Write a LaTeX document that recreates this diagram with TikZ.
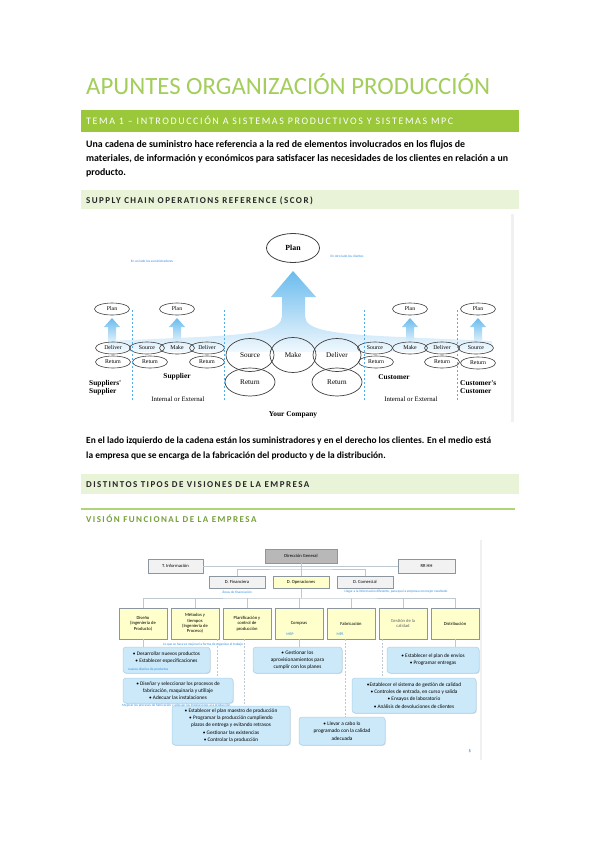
\documentclass[tikz,border=0pt]{standalone}
\usepackage{fontspec}
\setmainfont{Carlito}
\newfontfamily\serif{Liberation Serif}
\newfontfamily\spacedfont{Carlito}[LetterSpace=16]
\usetikzlibrary{shapes.geometric,shadows}
\definecolor{titlegreen}{RGB}{163,206,92}
\definecolor{bargreen}{RGB}{154,200,58}
\definecolor{palegreen}{RGB}{232,243,216}
\definecolor{darkgreen}{RGB}{118,160,60}
\definecolor{linegreen}{RGB}{176,212,120}
\definecolor{scorblue}{RGB}{80,175,235}
\definecolor{noteblue}{RGB}{40,140,230}
\definecolor{ylw}{RGB}{255,255,204}
\definecolor{lblue}{RGB}{204,233,249}
\definecolor{lbluedraw}{RGB}{170,210,235}
\definecolor{conn}{RGB}{190,200,210}
\definecolor{boxdraw}{RGB}{140,150,160}
\begin{document}
\begin{tikzpicture}[x=1pt,y=-1pt,
  sm/.style={ellipse,draw=black!75,line width=0.6pt,minimum width=35,minimum height=12,inner sep=0,font=\serif\fontsize{5.8}{6}\selectfont},
  bg/.style={ellipse,draw=black!75,line width=0.7pt,minimum width=48,minimum height=33,inner sep=0,font=\serif\fontsize{7.2}{8}\selectfont},
  lbl/.style={font=\serif\bfseries\fontsize{7.4}{8}\selectfont,align=left,inner sep=0},
  ilbl/.style={font=\serif\fontsize{6.8}{7}\selectfont,inner sep=0},
  vdash/.style={draw=scorblue,dashed,line width=0.9pt,dash pattern=on 2pt off 2pt},
  note/.style={text=noteblue,font=\fontsize{3.4}{4}\selectfont,inner sep=0},
  obox/.style={draw=boxdraw,line width=0.5pt,inner sep=0,align=center,font=\fontsize{4.6}{5.4}\selectfont,drop shadow={shadow xshift=0.7pt,shadow yshift=-0.7pt,opacity=0.35}},
  bbox/.style={draw=lbluedraw,fill=lblue,rounded corners=3pt,line width=0.5pt,inner sep=0,align=center,font=\fontsize{5.3}{7.2}\selectfont,drop shadow={shadow xshift=0.7pt,shadow yshift=-0.8pt,opacity=0.3}},
  cl/.style={draw=conn,line width=0.6pt},
  dl/.style={draw=conn,line width=0.8pt,dashed,dash pattern=on 2pt off 1.5pt},
  body/.style={anchor=base west,inner sep=0,font=\bfseries\fontsize{9.85}{14}\selectfont},
  bodyb/.style={anchor=base west,inner sep=0,font=\bfseries\fontsize{9.4}{14}\selectfont}]
\useasboundingbox (0,0) rectangle (599,848);
\fill[white] (0,0) rectangle (599,848);

% ---------- title and headings
\node[anchor=base west,inner sep=0,text=titlegreen,font=\fontsize{24.8}{30}\selectfont] (title) at (86,95) {APUNTES ORGANIZACIÓN PRODUCCIÓN};
\fill[bargreen] (81,110) rectangle (519,132);
\node[anchor=base west,inner sep=0,text=white,font=\spacedfont\fontsize{10}{11}\selectfont] (tema) at (86,124.5) {TEMA 1 – INTRODUCCIÓN A SISTEMAS PRODUCTIVOS Y SISTEMAS MPC};
\node[body] (p1) at (86,147) {Una cadena de suministro hace referencia a la red de elementos involucrados en los flujos de};
\node[body] (p2) at (86,161.5) {materiales, de información y económicos para satisfacer las necesidades de los clientes en relación a un};
\node[body] (p3) at (86,175.5) {producto.};
\fill[palegreen] (81,190) rectangle (519,209);
\node[anchor=base west,inner sep=0,text=black!85,font=\spacedfont\bfseries\fontsize{9}{10}\selectfont] (scorh) at (86,203) {SUPPLY CHAIN OPERATIONS REFERENCE (SCOR)};

% ---------- SCOR picture
\draw[black!6,line width=3pt] (512,214) -- (512,422);
\shade[top color=scorblue!85,bottom color=scorblue!8]
  (293,271) -- (316,297) -- (305,297) -- (305,316)
  .. controls (305,330) and (330,334) .. (400,337) -- (492,341) -- (492,352) -- (108,352) -- (108,341)
  -- (200,337) .. controls (258,334) and (282,330) .. (282,316) -- (282,297) -- (271,297) -- cycle;
\foreach \ax in {112,177,410,478}{
  \shade[top color=scorblue!85,bottom color=scorblue!20]
   (\ax,318) -- (\ax+8,327) -- (\ax+4,327) -- (\ax+4,341) -- (\ax-4,341) -- (\ax-4,327) -- (\ax-8,327) -- cycle;}
\node[ellipse,draw=black!75,line width=0.8pt,minimum width=53,minimum height=29,inner sep=0,font=\serif\bfseries\fontsize{7.8}{8}\selectfont] (plan) at (293,248) {Plan};
\node[note] (n1) at (152,261) {En un lado los suministradores};
\node[note] (n2) at (347,256) {En otro lado los clientes};
\node[sm] (pl1) at (112,309) {Plan};
\node[sm] (pl2) at (177,309) {Plan};
\node[sm] (pl3) at (410,309) {Plan};
\node[sm] (pl4) at (478,309) {Plan};
% left
\node[sm] (d1) at (113,348) {Deliver};
\node[sm] (s1) at (147,348) {Source};
\node[sm] (m1) at (177,348) {Make};
\node[sm] (d2) at (207,348) {Deliver};
\node[sm] (r1) at (113,362) {Return};
\node[sm] (r2) at (150,362) {Return};
\node[sm] (r3) at (207,362) {Return};
% company
\node[bg] (S) at (250,355) {Source};
\node[bg,minimum width=46,minimum height=35] (M) at (293,355) {Make};
\node[bg] (D) at (337,355) {Deliver};
\node[bg,minimum width=50,minimum height=28] (R1) at (250,382) {Return};
\node[bg,minimum width=50,minimum height=28] (R2) at (337,382) {Return};
% right
\node[sm] (s2) at (375,348) {Source};
\node[sm] (m2) at (410,348) {Make};
\node[sm] (d3) at (442,348) {Deliver};
\node[sm] (s3) at (476,348) {Source};
\node[sm] (r4) at (376,362) {Return};
\node[sm] (r5) at (442,362) {Return};
\node[sm] (r6) at (478,363) {Return};
% dividers
\foreach \dx in {132,224,364,457}{\draw[vdash] (\dx,310) -- (\dx,401);}
\node[lbl,anchor=north west] (ss) at (89,380) {Suppliers'\\Supplier};
\node[lbl] (sup) at (177,377) {Supplier};
\node[ilbl] (ie1) at (178,399) {Internal or External};
\node[lbl] (yc) at (293,415) {Your Company};
\node[lbl] (cus) at (394,377) {Customer};
\node[ilbl] (ie2) at (411,399) {Internal or External};
\node[lbl,anchor=north west] (cc) at (460,380) {Customer's\\Customer};

% ---------- second paragraph and headings
\node[bodyb] (q1) at (86,443) {En el lado izquierdo de la cadena están los suministradores y en el derecho los clientes. En el medio está};
\node[bodyb] (q2) at (86,458) {la empresa que se encarga de la fabricación del producto y de la distribución.};
\fill[palegreen] (81,474) rectangle (519,494);
\node[anchor=base west,inner sep=0,text=black!85,font=\spacedfont\bfseries\fontsize{9}{10}\selectfont] (dist) at (86,487.5) {DISTINTOS TIPOS DE VISIONES DE LA EMPRESA};
\draw[linegreen,line width=1.2pt] (81,509) -- (515,509);
\node[anchor=base west,inner sep=0,text=darkgreen,font=\spacedfont\bfseries\fontsize{9}{10}\selectfont] (vis) at (86,522) {VISIÓN FUNCIONAL DE LA EMPRESA};

% ---------- org chart
\draw[black!6,line width=1.5pt] (481,540) -- (481,760);
\node[obox,fill=black!28,minimum width=72,minimum height=14] (dg) at (301,556) {Dirección General};
\node[obox,fill=black!5,minimum width=55,minimum height=14] (ti) at (175.5,566) {T. Información};
\node[obox,fill=black!5,minimum width=57,minimum height=14] (rh) at (426.5,566) {RR HH};
\node[obox,fill=black!5,minimum width=56,minimum height=12.5] (df) at (237,582) {D. Financiera};
\node[obox,fill=ylw,minimum width=56,minimum height=12.5] (dop) at (301,582) {D. Operaciones};
\node[obox,fill=black!5,minimum width=56,minimum height=12.5] (dc) at (365,582) {D. Comercial};
\coordinate (h1) at (301,569);
\draw[cl] (ti.east) -- (rh.west);
\draw[cl] (dg.south) -- (h1);
\draw[cl] (df.north) |- (h1) -| (dc.north);
\draw[cl] (h1) -- (dop.north);
\node[note] (nf) at (237,592) {Áreas de financiación};
\node[note] (nc) at (396,592) {Llegar a la información diferente, para que la empresa con mejor resultado};
% bottom row
\node[obox,fill=ylw,minimum width=48,minimum height=31] (dis) at (143,623.5) {Diseño\\(ingeniería de\\Producto)};
\node[obox,fill=ylw,minimum width=48,minimum height=31] (met) at (195,623.5) {Métodos y\\tiempos\\(Ingeniería de\\Proceso)};
\node[obox,fill=ylw,minimum width=48,minimum height=31] (pla) at (247,623.5) {Planificación y\\control de\\producción};
\node[obox,fill=ylw,minimum width=48,minimum height=31] (com) at (299,623.5) {Compras};
\node[obox,fill=ylw,minimum width=48,minimum height=31] (fab) at (351,623.5) {Fabricación};
\node[obox,fill=ylw,minimum width=48,minimum height=31,text=black!60] (cal) at (403,623.5) {Gestión de la\\calidad};
\node[obox,fill=ylw,minimum width=48,minimum height=31] (dst) at (455,623.5) {Distribución};
\node[note,font=\fontsize{3.8}{4}\selectfont] (mrp) at (290,634) {MRP};
\node[note,font=\fontsize{3.8}{4}\selectfont] (mps) at (340,634) {MPS};
\coordinate (h2) at (301,598);
\draw[cl] (dop.south) -- (h2);
\draw[cl] (dis.north) |- (h2) -| (dst.north);
\foreach \b in {met,pla,com,fab,cal}{\draw[cl] (\b.north) -- (\b.north |- h2);}
\node[note] (nm) at (203,645) {Lo que se hace es mejorar la forma de organizar el trabajo};
% blue boxes
\node[bbox,minimum width=87,minimum height=26] (b1) at (166.5,660) {• Desarrollar nuevos productos\\• Establecer especificaciones\\[-2pt]};
\node[note,anchor=west] (nb1) at (128,669.5) {nuevos diseños de productos};
\node[bbox,minimum width=110,minimum height=25] (b2) at (178,690.5) {• Diseñar y seleccionar los procesos de\\fabricación, maquinaria y utillaje\\• Adecuar las instalaciones};
\node[note,anchor=west] (nb2) at (122,705.5) {Mejorar los procesos de fabricación y adecuar las instalaciones a la producción};
\node[bbox,minimum width=118,minimum height=39] (b3) at (231,725.5) {• Establecer el plan maestro de producción\\• Programar la producción cumpliendo\\plazos de entrega y evitando retrasos\\• Gestionar las existencias\\• Controlar la producción};
\node[bbox,minimum width=89,minimum height=26] (b4) at (297.5,660) {• Gestionar los\\aprovisionamientos para\\cumplir con los planes};
\node[bbox,minimum width=86,minimum height=28] (b5) at (342,731) {• Llevar a cabo lo\\programado con la calidad\\adecuada};
\node[bbox,minimum width=92,minimum height=26] (b6) at (433,660) {• Establecer el plan de envíos\\• Programar entregas};
\node[bbox,minimum width=124,minimum height=35] (b7) at (414,695.5) {•Establecer el sistema de gestión de calidad\\• Controles de entrada, en curso y salida\\• Ensayos de laboratorio\\• Análisis de devoluciones de clientes};
\coordinate (x217) at (217,0);
\coordinate (x244) at (244,0);
\coordinate (x345) at (345,0);
\coordinate (x382) at (382,0);
\draw[cl] (dis.south) -- (b1.north -| dis.south);
\draw[cl] (com.south) -- (b4.north -| com.south);
\draw[cl] (dst.south) -- (b6.north -| dst.south);
\draw[dl] (met.south -| x217) -- (b2.north -| x217);
\draw[dl] (pla.south -| x244) -- (b3.north -| x244);
\draw[dl] (fab.south -| x345) -- (b5.north -| x345);
\draw[dl] (cal.south -| x382) -- (b7.north -| x382);
\node[text=noteblue,font=\fontsize{5}{5}\selectfont,inner sep=0] (ico) at (470,751) {\$};
\end{tikzpicture}
\end{document}
